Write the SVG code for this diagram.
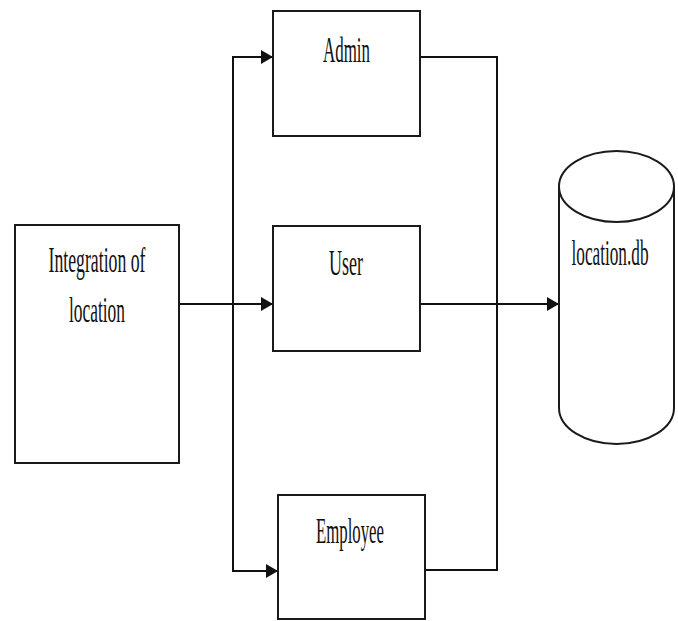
<svg xmlns="http://www.w3.org/2000/svg" width="678" height="621" viewBox="0 0 678 621">
  <style>
    .box { fill: #ffffff; stroke: #1a1a1a; stroke-width: 2; }
    .wire { fill: none; stroke: #111111; stroke-width: 2; }
    .lbl { font-family: "Liberation Serif", "Times New Roman", serif; font-size: 35px; fill: #111111; text-anchor: middle; }
  </style>
  <defs>
    <marker id="arrow" markerWidth="12" markerHeight="14" refX="11" refY="7" orient="auto" markerUnits="userSpaceOnUse">
      <path d="M0,0 L12,7 L0,14 Z" fill="#111111"/>
    </marker>
  </defs>

  <rect width="678" height="621" fill="#ffffff"/>

  <!-- connectors -->
  <g id="connectors">
    <!-- source to fan-out bus -->
    <line class="wire" x1="179" y1="304" x2="272" y2="304" marker-end="url(#arrow)"/>
    <line class="wire" x1="233" y1="57" x2="233" y2="571"/>
    <line class="wire" x1="232" y1="57" x2="272" y2="57" marker-end="url(#arrow)"/>
    <line class="wire" x1="232" y1="571" x2="277" y2="571" marker-end="url(#arrow)"/>
    <!-- collector bus to database -->
    <polyline class="wire" points="420,57 497,57 497,570 425,570"/>
    <line class="wire" x1="420" y1="304" x2="558" y2="304" marker-end="url(#arrow)"/>
  </g>

  <!-- nodes -->
  <g id="integration">
    <rect class="box" x="15" y="225" width="164" height="238"/>
    <text class="lbl" x="97" y="272" textLength="97" lengthAdjust="spacingAndGlyphs">Integration of</text>
    <text class="lbl" x="97" y="322" textLength="56" lengthAdjust="spacingAndGlyphs">location</text>
  </g>

  <g id="admin">
    <rect class="box" x="273" y="11" width="147" height="125"/>
    <text class="lbl" x="346.5" y="62" textLength="47" lengthAdjust="spacingAndGlyphs">Admin</text>
  </g>

  <g id="user">
    <rect class="box" x="273" y="226" width="147" height="125"/>
    <text class="lbl" x="346" y="275" textLength="34" lengthAdjust="spacingAndGlyphs">User</text>
  </g>

  <g id="employee">
    <rect class="box" x="278" y="495" width="147" height="124"/>
    <text class="lbl" x="350" y="543" textLength="68" lengthAdjust="spacingAndGlyphs">Employee</text>
  </g>

  <g id="location-db">
    <path class="box" d="M559,186.5 L559,408 A57.5,36 0 0 0 674,408 L674,186.5"/>
    <ellipse class="box" cx="616.5" cy="186.5" rx="57.5" ry="35.5"/>
    <text class="lbl" x="610" y="265" textLength="77" lengthAdjust="spacingAndGlyphs">location.db</text>
  </g>
</svg>
